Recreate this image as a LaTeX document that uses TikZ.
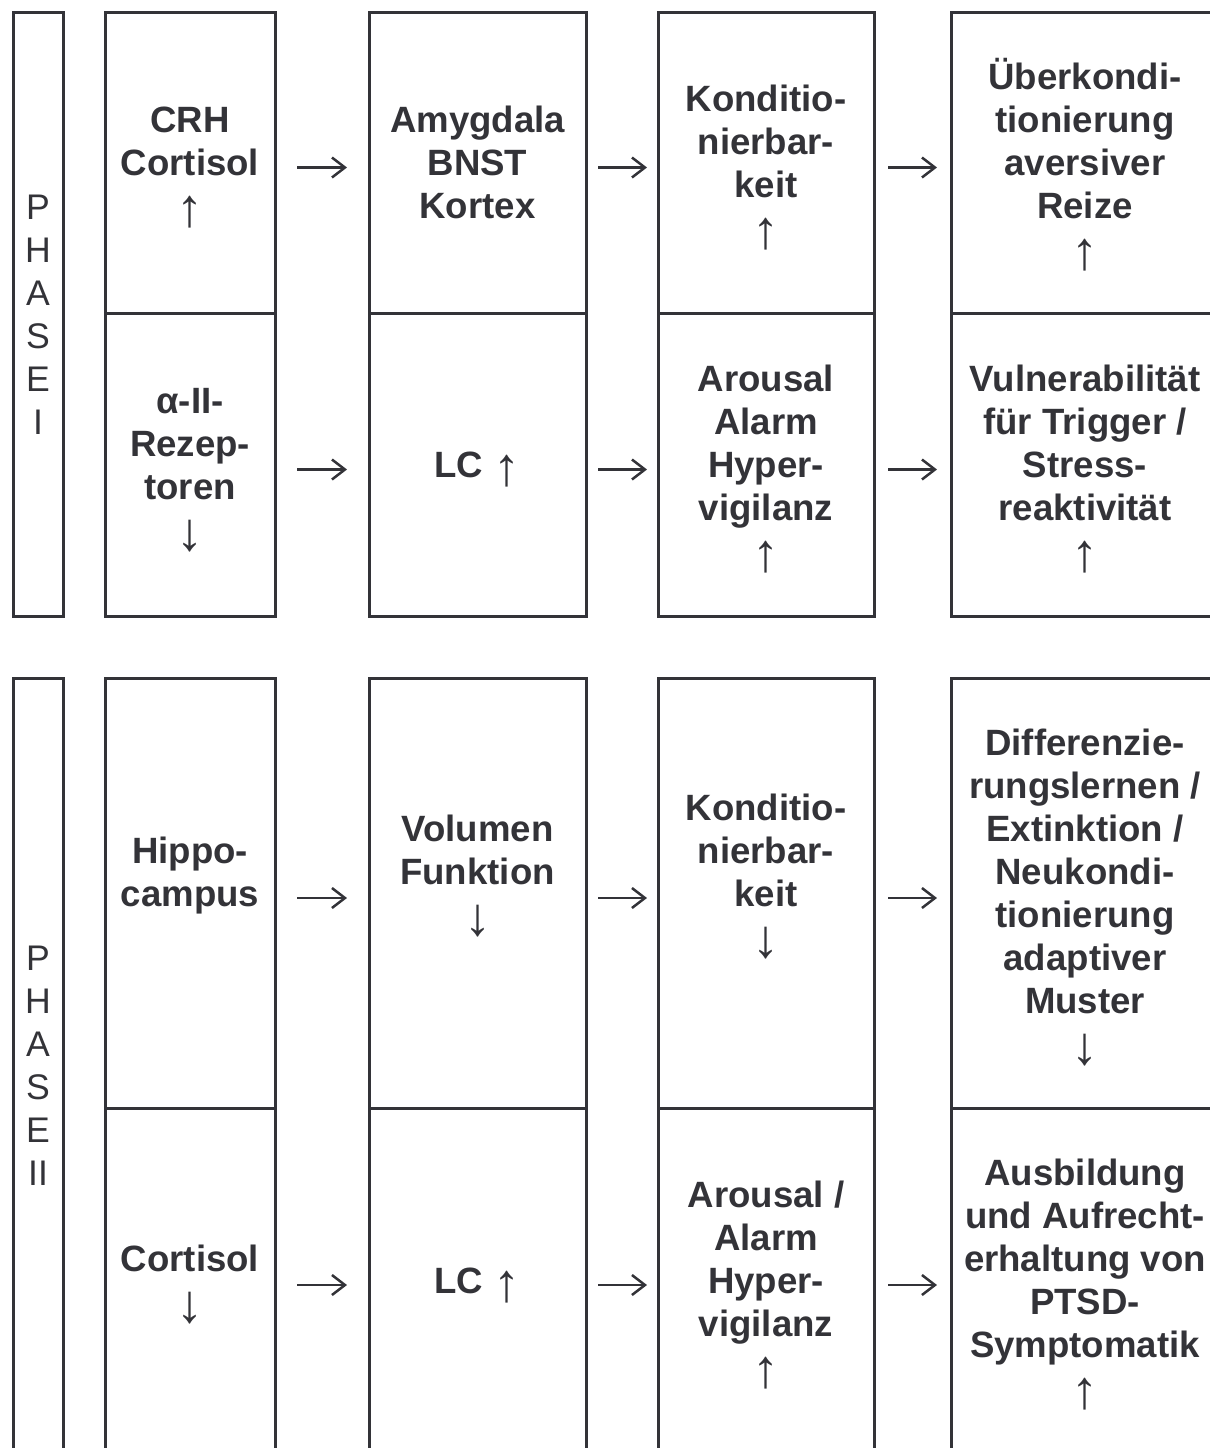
\documentclass[tikz,border=0pt]{standalone}
\usepackage{fontspec}
\setmainfont{Liberation Sans}
\usetikzlibrary{arrows.meta}
\definecolor{ink}{RGB}{51,51,56}
% one text line of fixed height/depth, so blocks stack evenly
\newcommand\ls{\rule[-4.1pt]{0pt}{21.5pt}}
% thin trend arrows, set a little below the baseline
\newcommand\up{\raisebox{-4pt}[0pt][0pt]{\mdseries\fontsize{27}{21.5}\selectfont ↑}}
\newcommand\dn{\raisebox{-4pt}[0pt][0pt]{\mdseries\fontsize{27}{21.5}\selectfont ↓}}
\begin{document}
\begin{tikzpicture}[x=0.5pt,y=-0.5pt,
  box/.style={draw=ink, line width=1.5pt, inner sep=0pt, outer sep=0pt,
    align=center, text=ink, font=\fontsize{18.3}{21.5}\selectfont\bfseries},
  phase/.style={box, minimum width=25pt, font=\fontsize{17.8}{21.5}\selectfont},
  colA/.style={box, minimum width=85pt},
  colB/.style={box, minimum width=108.5pt},
  colC/.style={box, minimum width=108pt},
  colD/.style={box, minimum width=134pt},
  conn/.style={draw=ink, line width=1.25pt, -{Straight Barb[length=6.5pt,width=10pt]}},
  gapA/.style={shorten <=11pt, shorten >=11pt},
  gapB/.style={shorten <=6pt, shorten >=5.5pt},
  gapC/.style={shorten <=7pt, shorten >=7pt}]
\useasboundingbox (0,0) rectangle (1210,1448);

% ---------------- Phase I ----------------
\node[phase, minimum height=302pt] (ph1) at (38,314)
  {\ls P\\\ls H\\\ls A\\\ls S\\\ls E\\\ls I};

\node[colA, minimum height=150.5pt] (a11) at (190,162.5)
  {\ls CRH\\\ls Cortisol\\\ls\up};
\node[colB, minimum height=150.5pt] (b11) at (477.5,162.5)
  {\ls Amygdala\\\ls BNST\\\ls Kortex};
\node[colC, minimum height=150.5pt] (c11) at (766,162.5)
  {\ls Konditio-\\\ls nierbar-\\\ls keit\\\ls\up};
\node[colD, minimum height=150.5pt] (d11) at (1085,162.5)
  {\ls Überkondi-\\\ls tionierung\\\ls aversiver\\\ls Reize\\\ls\up};

\node[colA, minimum height=151.5pt] (a12) at (190,464.5)
  {\ls α-II-\\\ls Rezep-\\\ls toren\\\ls\dn};
\node[colB, minimum height=151.5pt] (b12) at (477.5,464.5)
  {\ls LC \up};
\node[colC, minimum height=151.5pt] (c12) at (766,464.5)
  {\ls Arousal\\\ls Alarm\\\ls Hyper-\\\ls vigilanz\\\ls\up};
\node[colD, minimum height=151.5pt] (d12) at (1085,464.5)
  {\ls Vulnerabilität\\\ls für Trigger /\\\ls Stress-\\\ls reaktivität\\\ls\up};

\draw[conn, gapA] ([yshift=-2.5pt]a11.east) -- ([yshift=-2.5pt]b11.west);
\draw[conn, gapB] ([yshift=-2.5pt]b11.east) -- ([yshift=-2.5pt]c11.west);
\draw[conn, gapC] ([yshift=-2.5pt]c11.east) -- ([yshift=-2.5pt]d11.west);
\draw[conn, gapA] ([yshift=-2.5pt]a12.east) -- ([yshift=-2.5pt]b12.west);
\draw[conn, gapB] ([yshift=-2.5pt]b12.east) -- ([yshift=-2.5pt]c12.west);
\draw[conn, gapC] ([yshift=-2.5pt]c12.east) -- ([yshift=-2.5pt]d12.west);

% ---------------- Phase II ----------------
\node[phase, minimum height=387pt] (ph2) at (38,1065)
  {\ls P\\\ls H\\\ls A\\\ls S\\\ls E\\\ls II};

\node[colA, minimum height=215pt] (a21) at (190,893)
  {\ls Hippo-\\\ls campus\\\ls};
\node[colB, minimum height=215pt] (b21) at (477.5,893)
  {\ls Volumen\\\ls Funktion\\\ls\dn\\\ls};
\node[colC, minimum height=215pt] (c21) at (766,893)
  {\ls Konditio-\\\ls nierbar-\\\ls keit\\\ls\dn\\\ls};
\node[colD, minimum height=215pt] (d21) at (1085,893)
  {\ls Differenzie-\\\ls rungslernen /\\\ls Extinktion /\\\ls Neukondi-\\\ls tionierung\\\ls adaptiver\\\ls Muster\\\ls\dn};

\node[colA, minimum height=172pt] (a22) at (190,1280)
  {\ls Cortisol\\\ls\dn};
\node[colB, minimum height=172pt] (b22) at (477.5,1280)
  {\ls LC \up};
\node[colC, minimum height=172pt] (c22) at (766,1280)
  {\ls Arousal /\\\ls Alarm\\\ls Hyper-\\\ls vigilanz\\\ls\up};
\node[colD, minimum height=172pt] (d22) at (1085,1280)
  {\ls Ausbildung\\\ls und Aufrecht-\\\ls erhaltung von\\\ls PTSD-\\\ls Symptomatik\\\ls\up};

\draw[conn, gapA] ([yshift=-2.5pt]a21.east) -- ([yshift=-2.5pt]b21.west);
\draw[conn, gapB] ([yshift=-2.5pt]b21.east) -- ([yshift=-2.5pt]c21.west);
\draw[conn, gapC] ([yshift=-2.5pt]c21.east) -- ([yshift=-2.5pt]d21.west);
\draw[conn, gapA] ([yshift=-2.5pt]a22.east) -- ([yshift=-2.5pt]b22.west);
\draw[conn, gapB] ([yshift=-2.5pt]b22.east) -- ([yshift=-2.5pt]c22.west);
\draw[conn, gapC] ([yshift=-2.5pt]c22.east) -- ([yshift=-2.5pt]d22.west);
\end{tikzpicture}
\end{document}
